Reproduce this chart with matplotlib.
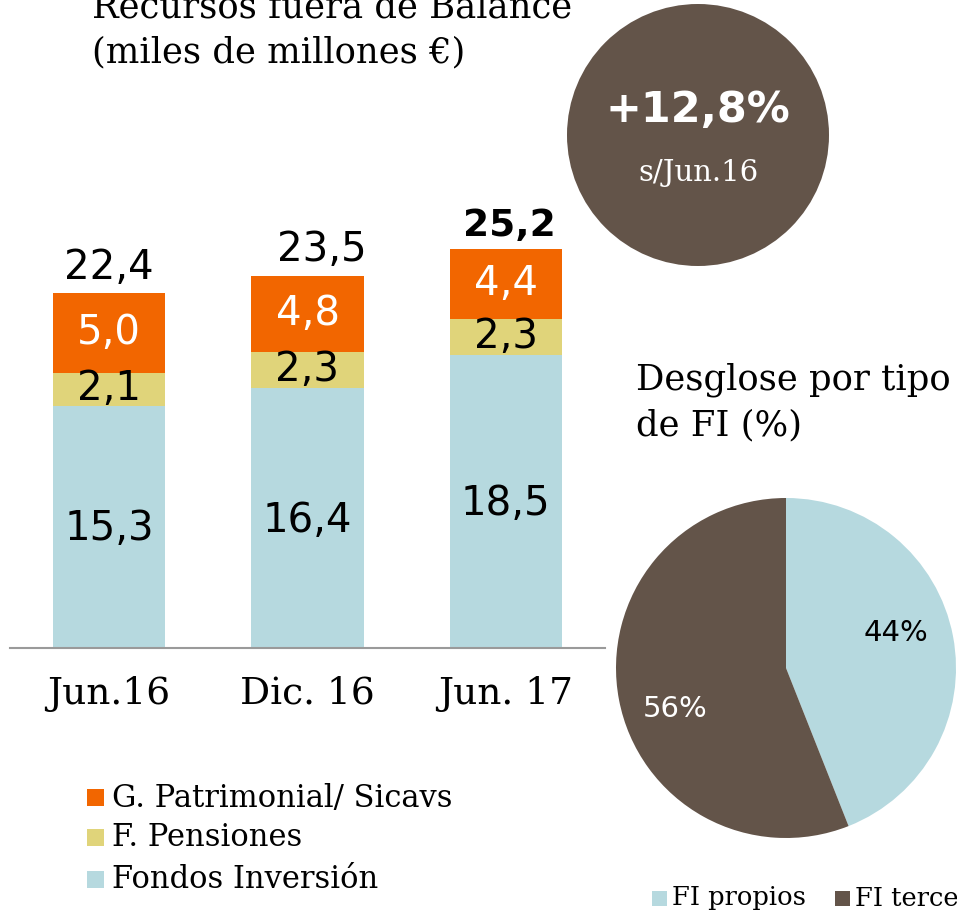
import matplotlib
matplotlib.use("Agg")
import matplotlib.pyplot as plt
from matplotlib.patches import Circle, Rectangle

categories = ["Jun.16", "Dic. 16", "Jun. 17"]
fondos = [15.3, 16.4, 18.5]
pensiones = [2.1, 2.3, 2.3]
patrimonial = [5.0, 4.8, 4.4]
totals = ["22,4", "23,5", "25,2"]
series_names = ["G. Patrimonial/ Sicavs", "F. Pensiones", "Fondos Inversión"]
pie_labels = ["FI propios", "FI terce"]
pie_values = [44, 56]
growth_text = "+12,8%"
growth_sub = "s/Jun.16"

C_ORANGE = "#F26600"
C_YELLOW = "#E0D47A"
C_BLUE = "#B6D9DF"
C_BROWN = "#635449"

SERIF = "DejaVu Serif"
SANS = "DejaVu Sans"

W, H = 957, 913
fig = plt.figure(figsize=(W / 100, H / 100), dpi=100)

def fx(px):
    return px / W

def fy(py):
    return 1 - py / H

# Bar axes: baseline at y=648px, x from 10 to 605 px
ymax = 30
px_per_unit = 15.83
top_px = 648 - ymax * px_per_unit
ax = fig.add_axes([fx(10), fy(648), fx(605) - fx(10), (648 - top_px) / H])
x = list(range(len(categories)))
bw = 0.565
ax.bar(x, fondos, bw, color=C_BLUE)
b2 = [f for f in fondos]
ax.bar(x, pensiones, bw, bottom=b2, color=C_YELLOW)
b3 = [f + p for f, p in zip(fondos, pensiones)]
ax.bar(x, patrimonial, bw, bottom=b3, color=C_ORANGE)
ax.set_xlim(-0.5, 2.5)
ax.set_ylim(0, ymax)
for s in ["top", "right", "left"]:
    ax.spines[s].set_visible(False)
ax.spines["bottom"].set_color("#9a9a9a")
ax.spines["bottom"].set_linewidth(1.5)
ax.set_yticks([])
ax.set_xticks(x)
ax.set_xticklabels(categories, fontsize=27, family=SERIF)
ax.tick_params(axis="x", length=0, pad=20)
ax.patch.set_alpha(0)

def fmt(v):
    return f"{v:.1f}".replace(".", ",")

LBL = 29
for i in x:
    ax.text(i, fondos[i] / 2 - 0.15, fmt(fondos[i]), ha="center", va="center",
            fontsize=LBL, family=SANS, color="black")
    ax.text(i, fondos[i] + pensiones[i] / 2, fmt(pensiones[i]), ha="center",
            va="center", fontsize=LBL, family=SANS, color="black")
    ax.text(i, b3[i] + patrimonial[i] / 2, fmt(patrimonial[i]), ha="center",
            va="center", fontsize=LBL, family=SANS, color="white")

tot_offsets = [0.0, 0.07, 0.02]
for i in x:
    ax.text(i + tot_offsets[i], b3[i] + patrimonial[i] + 0.35, totals[i],
            ha="center", va="bottom", fontsize=LBL if i < 2 else 27,
            family=SANS, color="black",
            fontweight="bold" if i == 2 else "normal")

# Overlay axes in pixel coordinates for annotations
ov = fig.add_axes([0, 0, 1, 1])
ov.set_xlim(0, W)
ov.set_ylim(H, 0)
ov.axis("off")
ov.patch.set_alpha(0)

ov.text(92, 8, "Recursos fuera de Balance", fontsize=25.5, family=SERIF,
        ha="left", va="center")
ov.text(92, 52, "(miles de millones €)", fontsize=25.5, family=SERIF,
        ha="left", va="center")

ov.add_patch(Circle((698, 135), 131, color=C_BROWN, lw=0))
ov.text(698, 110, growth_text, fontsize=31, family=SANS, fontweight="bold",
        color="white", ha="center", va="center")
ov.text(698, 173, growth_sub, fontsize=21, family=SERIF, color="white",
        ha="center", va="center")

ov.text(636, 380, "Desglose por tipo", fontsize=25.5, family=SERIF,
        ha="left", va="center")
ov.text(636, 425, "de FI (%)", fontsize=25.5, family=SERIF,
        ha="left", va="center")

leg_cols = [C_ORANGE, C_YELLOW, C_BLUE]
leg_y = [798, 838, 880]
for c, yy, name in zip(leg_cols, leg_y, series_names):
    ov.add_patch(Rectangle((87, yy - 9), 17, 17, color=c, lw=0))
    ov.text(112, yy, name, fontsize=22, family=SERIF, ha="left", va="center")

pie_cols = [C_BLUE, C_BROWN]
pie_leg_x = [652, 835]
for c, xx, name in zip(pie_cols, pie_leg_x, pie_labels):
    ov.add_patch(Rectangle((xx, 891), 15, 15, color=c, lw=0))
    ov.text(xx + 20, 898, name, fontsize=18.5, family=SERIF, ha="left", va="center")

# Pie
pax = fig.add_axes([fx(616), fy(838), 340 / W, 340 / H])
wedges, texts = pax.pie(pie_values, colors=pie_cols, startangle=90,
                        counterclock=False, radius=1,
                        wedgeprops=dict(linewidth=0))
pax.set_xlim(-1, 1)
pax.set_ylim(-1, 1)
pax.set_aspect("equal")
pax.text(0.647, 0.206, f"{pie_values[0]}%", fontsize=21, family=SANS,
         color="black", ha="center", va="center")
pax.text(-0.653, -0.241, f"{pie_values[1]}%", fontsize=21, family=SANS,
         color="white", ha="center", va="center")

fig.savefig("out.png", dpi=100)
